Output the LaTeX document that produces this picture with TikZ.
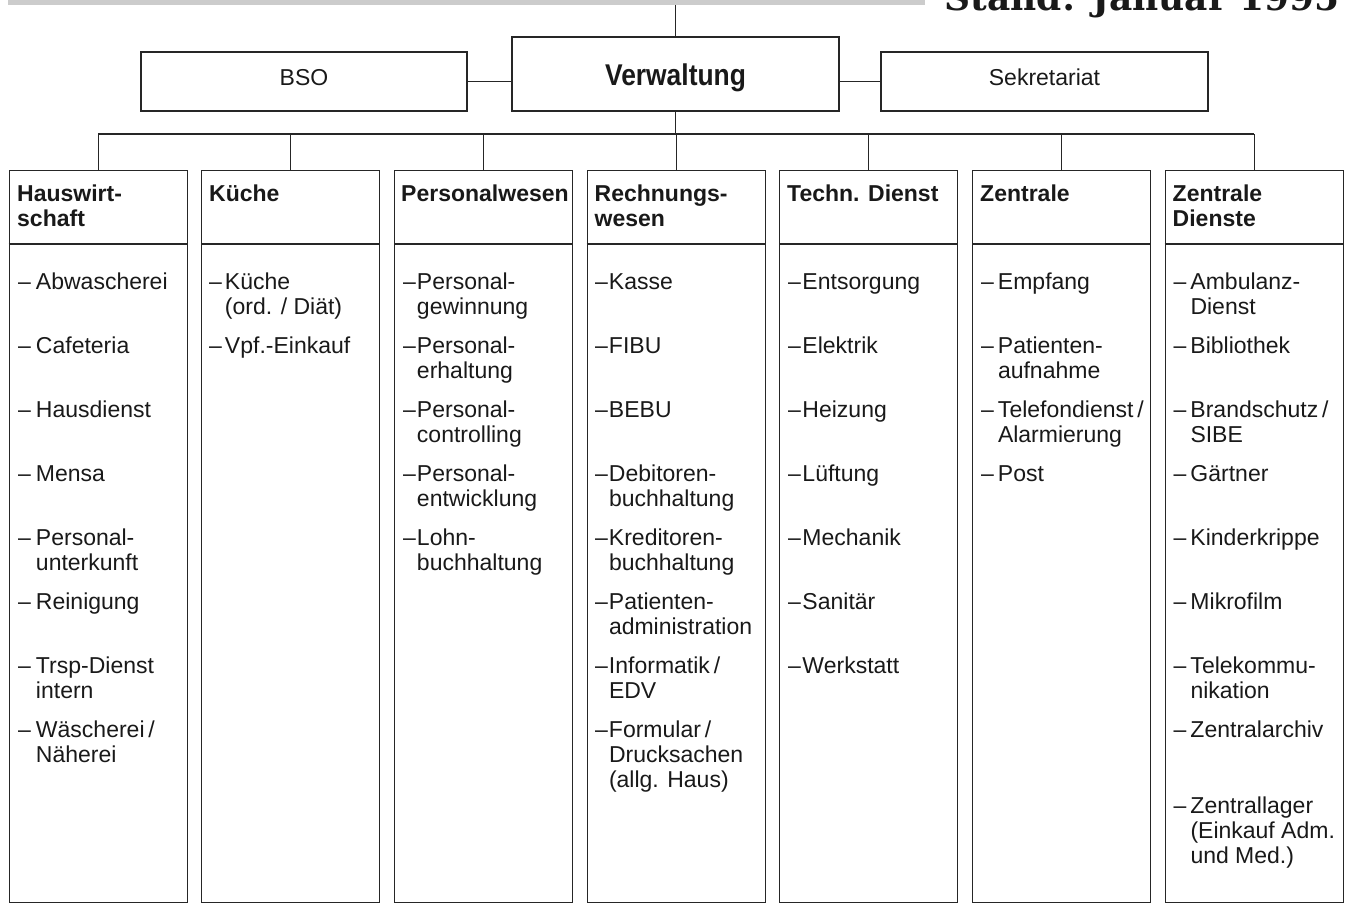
\documentclass[tikz,border=0pt]{standalone}
\usepackage{fontspec}
\setmainfont{Liberation Sans}
\newfontfamily\titlefont{DejaVu Serif}
\newfontfamily\condfont[FakeStretch=0.88]{Liberation Sans}
\newcommand{\itmfont}{\fontsize{23}{25}\selectfont}
\newcommand{\hdfont}{\fontsize{23}{25.5}\selectfont\bfseries}
\newcommand{\li}[2][4pt]{\begin{tabular}[t]{@{}l@{\hspace{#1}}l@{}}–&#2\end{tabular}}
\newcommand{\hd}[1]{\begin{tabular}[t]{@{}l@{}}#1\end{tabular}}
\tikzset{
  ln/.style={draw=black!85, line width=1.4pt},
  colbox/.style={ln, rectangle, anchor=north west, minimum width=178pt, minimum height=732pt, inner sep=0pt},
  topbox/.style={ln, rectangle, inner sep=0pt},
  toplabel/.style={anchor=base, inner sep=0pt, font=\fontsize{23}{25}\selectfont, text=black!90},
  itm/.style={anchor=base west, inner sep=0pt, font=\itmfont, text=black!90},
  hdr/.style={anchor=base west, inner sep=0pt, font=\hdfont, text=black!90},
}
\begin{document}
\begin{tikzpicture}[x=1pt,y=-1pt]
\useasboundingbox (0,0) rectangle (1348,904);
% top decoration
\fill[gray!40] (8,0) rectangle (925,5);
\begin{scope}
\clip (0,0) rectangle (1348,904);
\node[anchor=base east, inner sep=0pt, font=\titlefont\fontsize{36}{40}\selectfont\bfseries, text=black!90] (title) at (1340,11) {Stand: Januar 1995};
\end{scope}
% top row
\node[topbox, minimum width=327pt, minimum height=74pt] (verw) at (675.5,74) {};
\node[topbox, minimum width=326pt, minimum height=59pt] (bso) at (304,81.5) {};
\node[topbox, minimum width=327pt, minimum height=59pt] (sek) at (1044.5,81.5) {};
\node[toplabel, font=\condfont\bfseries\fontsize{30}{34}\selectfont] (verwt) at (675.5,86) {Verwaltung};
\node[toplabel] (bsot) at (304,86) {BSO};
\node[toplabel] (sekt) at (1044.5,86) {Sekretariat};
\coordinate (topend) at (675.5,5);
\draw[ln] (verw.north) -- (topend);
\draw[ln] (bso.east) -- (verw.west |- bso.east);
\draw[ln] (sek.west) -- (verw.east |- sek.west);
% columns
\node[colbox] (c1) at (8.5,170) {};
\node[colbox] (c2) at (201,170) {};
\node[colbox] (c3) at (394,170) {};
\node[colbox] (c4) at (586.5,170) {};
\node[colbox] (c5) at (779,170) {};
\node[colbox] (c6) at (972,170) {};
\node[colbox] (c7) at (1164.5,170) {};
% bus
\coordinate (bus) at (675.5,134);
\draw[ln] (verw.south) -- (bus);
\draw[ln] (c1.north |- bus) -- (c7.north |- bus);
\foreach \c in {c1,c2,c3,c4,c5,c6,c7}{
  \draw[ln] (\c.north) -- (\c.north |- bus);
}
% header separators
\coordinate (sep) at (0,244);
\foreach \c in {c1,c2,c3,c4,c5,c6,c7}{
  \draw[ln] (\c.west |- sep) -- (\c.east |- sep);
}
% headers
\node[hdr] (h1) at (17,201) {\hd{Hauswirt-\\schaft}};
\node[hdr] (h2) at (209,201) {\hd{Küche}};
\node[hdr] (h3) at (401,201) {\hd{Personalwesen}};
\node[hdr] (h4) at (594.5,201) {\hd{Rechnungs-\\wesen}};
\node[hdr] (h5) at (787,201) {\hd{Techn. Dienst}};
\node[hdr] (h6) at (980,201) {\hd{Zentrale}};
\node[hdr] (h7) at (1172.5,201) {\hd{Zentrale\\Dienste}};
% column 1
\node[itm] (a1) at (18,289) {\li[5pt]{Abwascherei}};
\node[itm] (a2) at (18,353) {\li[5pt]{Cafeteria}};
\node[itm] (a3) at (18,417) {\li[5pt]{Hausdienst}};
\node[itm] (a4) at (18,481) {\li[5pt]{Mensa}};
\node[itm] (a5) at (18,545) {\li[5pt]{Personal-\\&unterkunft}};
\node[itm] (a6) at (18,609) {\li[5pt]{Reinigung}};
\node[itm] (a7) at (18,673) {\li[5pt]{Trsp-Dienst\\&intern}};
\node[itm] (a8) at (18,737) {\li[5pt]{Wäscherei\,/\\&Näherei}};
% column 2
\node[itm] (b1) at (209,289) {\li[3pt]{Küche\\&(ord. / Diät)}};
\node[itm] (b2) at (209,353) {\li[3pt]{Vpf.-Einkauf}};
% column 3
\node[itm] (p1) at (403,289) {\li[1pt]{Personal-\\&gewinnung}};
\node[itm] (p2) at (403,353) {\li[1pt]{Personal-\\&erhaltung}};
\node[itm] (p3) at (403,417) {\li[1pt]{Personal-\\&controlling}};
\node[itm] (p4) at (403,481) {\li[1pt]{Personal-\\&entwicklung}};
\node[itm] (p5) at (403,545) {\li[1pt]{Lohn-\\&buchhaltung}};
% column 4
\node[itm] (r1) at (595,289) {\li[1pt]{Kasse}};
\node[itm] (r2) at (595,353) {\li[1pt]{FIBU}};
\node[itm] (r3) at (595,417) {\li[1pt]{BEBU}};
\node[itm] (r4) at (595,481) {\li[1pt]{Debitoren-\\&buchhaltung}};
\node[itm] (r5) at (595,545) {\li[1pt]{Kreditoren-\\&buchhaltung}};
\node[itm] (r6) at (595,609) {\li[1pt]{Patienten-\\&administration}};
\node[itm] (r7) at (595,673) {\li[1pt]{Informatik\,/\\&EDV}};
\node[itm] (r8) at (595,737) {\li[1pt]{Formular\,/\\&Drucksachen\\&(allg. Haus)}};
% column 5
\node[itm] (t1) at (788,289) {\li[1.5pt]{Entsorgung}};
\node[itm] (t2) at (788,353) {\li[1.5pt]{Elektrik}};
\node[itm] (t3) at (788,417) {\li[1.5pt]{Heizung}};
\node[itm] (t4) at (788,481) {\li[1.5pt]{Lüftung}};
\node[itm] (t5) at (788,545) {\li[1.5pt]{Mechanik}};
\node[itm] (t6) at (788,609) {\li[1.5pt]{Sanitär}};
\node[itm] (t7) at (788,673) {\li[1.5pt]{Werkstatt}};
% column 6
\node[itm] (z1) at (981,289) {\li[4pt]{Empfang}};
\node[itm] (z2) at (981,353) {\li[4pt]{Patienten-\\&aufnahme}};
\node[itm] (z3) at (981,417) {\li[4pt]{Telefondienst\,/\\&Alarmierung}};
\node[itm] (z4) at (981,481) {\li[4pt]{Post}};
% column 7
\node[itm] (d1) at (1173.5,289) {\li[4pt]{Ambulanz-\\&Dienst}};
\node[itm] (d2) at (1173.5,353) {\li[4pt]{Bibliothek}};
\node[itm] (d3) at (1173.5,417) {\li[4pt]{Brandschutz\,/\\&SIBE}};
\node[itm] (d4) at (1173.5,481) {\li[4pt]{Gärtner}};
\node[itm] (d5) at (1173.5,545) {\li[4pt]{Kinderkrippe}};
\node[itm] (d6) at (1173.5,609) {\li[4pt]{Mikrofilm}};
\node[itm] (d7) at (1173.5,673) {\li[4pt]{Telekommu-\\&nikation}};
\node[itm] (d8) at (1173.5,737) {\li[4pt]{Zentralarchiv}};
\node[itm] (d9) at (1173.5,813) {\li[4pt]{Zentrallager\\&(Einkauf Adm.\\&und Med.)}};
\end{tikzpicture}
\end{document}
